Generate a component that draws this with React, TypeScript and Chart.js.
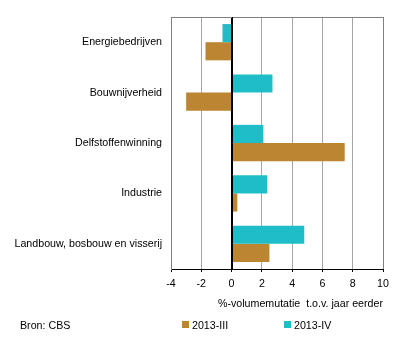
import React, { useEffect, useRef } from 'react';
import { Chart, registerables } from 'chart.js';

Chart.register(...registerables);

const categories = [
  'Energiebedrijven',
  'Bouwnijverheid',
  'Delfstoffenwinning',
  'Industrie',
  'Landbouw, bosbouw en visserij',
];
const seriesIII = [-1.72, -3.0, 7.47, 0.38, 2.5];
const seriesIV = [-0.6, 2.7, 2.1, 2.36, 4.8];
const labelIII = '2013-III';
const labelIV = '2013-IV';
const xMin = -4;
const xMax = 10;
const xStep = 2;
const axisTitle = '%-volumemutatie  t.o.v. jaar eerder';
const sourceText = 'Bron: CBS';

const colorIII = '#bc8531';
const colorIV = '#1fbdc7';
const FONT = '"Liberation Sans", Arial, sans-serif';
const FS = 10.67;

const borderPlugin = {
  id: 'borderPlugin',
  afterDatasetsDraw(chart: any) {
    const { ctx, chartArea } = chart;
    const xs = chart.scales.x;
    ctx.save();
    ctx.lineWidth = 1;
    ctx.strokeStyle = '#808080';
    ctx.beginPath();
    ctx.moveTo(chartArea.left, Math.round(chartArea.top) + 0.5);
    ctx.lineTo(chartArea.right + 0.5, Math.round(chartArea.top) + 0.5);
    ctx.stroke();
    const zx = Math.round(xs.getPixelForValue(0)) + 0.5;
    ctx.strokeStyle = '#000';
    ctx.beginPath();
    ctx.moveTo(zx, chartArea.top);
    ctx.lineTo(zx, chartArea.bottom);
    ctx.stroke();
    ctx.restore();
  },
};

export default function App() {
  const ref = useRef<HTMLCanvasElement>(null);
  useEffect(() => {
    document.body.style.margin = '0';
    const chart = new Chart(ref.current as HTMLCanvasElement, {
      type: 'bar',
      data: {
        labels: categories,
        datasets: [
          { label: labelIV, data: seriesIV, backgroundColor: colorIV, borderWidth: 0 },
          { label: labelIII, data: seriesIII, backgroundColor: colorIII, borderWidth: 0 },
        ],
      },
      options: {
        indexAxis: 'y',
        responsive: false,
        maintainAspectRatio: false,
        animation: false,
        datasets: { bar: { categoryPercentage: 0.72, barPercentage: 1 } },
        layout: { padding: { top: 17, right: 13, left: 0, bottom: 24 } },
        plugins: { legend: { display: false }, tooltip: { enabled: false } },
        scales: {
          x: {
            type: 'linear',
            min: xMin,
            max: xMax,
            ticks: { stepSize: xStep, color: '#000', padding: 5.5, font: { family: FONT, size: FS } },
            grid: {
              color: (c: any) => {
                const v = c.tick ? c.tick.value : null;
                if (v === 0) return '#000';
                if (v === xMin || v === xMax) return '#808080';
                return '#a6a6a6';
              },
              lineWidth: 1,
              tickColor: '#000',
              tickLength: 3,
            },
            border: { color: '#000', width: 1 },
            title: {
              display: true,
              text: axisTitle,
              align: 'end',
              color: '#000',
              font: { family: FONT, size: FS },
              padding: { top: 0, bottom: 3.2 },
            },
            afterFit: (s: any) => { s.height = 45; },
          },
          y: {
            type: 'category',
            grid: { display: false, drawTicks: false },
            border: { color: '#808080', width: 1 },
            ticks: { color: '#000', padding: 9, font: { family: FONT, size: FS } },
            afterFit: (s: any) => { s.width = 171; },
          },
        },
      },
      plugins: [borderPlugin],
    } as any);
    return () => chart.destroy();
  }, []);

  const textStyle: React.CSSProperties = {
    position: 'absolute',
    fontFamily: FONT,
    fontSize: FS,
    lineHeight: '12px',
    color: '#000',
    whiteSpace: 'nowrap',
  };

  return (
    <div style={{ position: 'relative', width: 396, height: 338, background: '#fff' }}>
      <canvas ref={ref} width={396} height={338} style={{ display: 'block' }} />
      <div style={{ ...textStyle, left: 20, top: 319 }}>{sourceText}</div>
      <div style={{ position: 'absolute', left: 182, top: 321, width: 7, height: 7, background: colorIII }} />
      <div style={{ ...textStyle, left: 192, top: 318.6 }}>{labelIII}</div>
      <div style={{ position: 'absolute', left: 284, top: 321, width: 7, height: 7, background: colorIV }} />
      <div style={{ ...textStyle, left: 294, top: 318.6 }}>{labelIV}</div>
    </div>
  );
}
